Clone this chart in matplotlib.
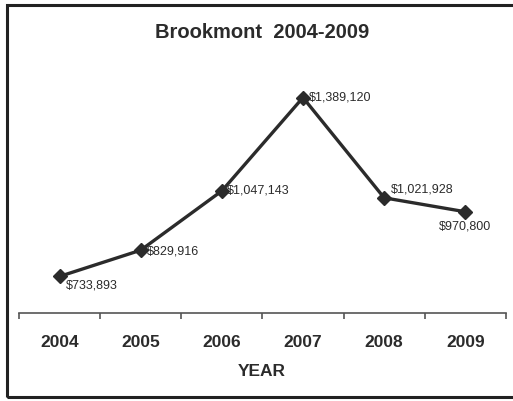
import matplotlib.pyplot as plt
from matplotlib.patches import Rectangle
from matplotlib.ticker import FixedLocator

plt.rcParams['font.family'] = ['Liberation Sans', 'DejaVu Sans']

years = ['2004', '2005', '2006', '2007', '2008', '2009']
prices = [733893, 829916, 1047143, 1389120, 1021928, 970800]
# offset (points) and alignment of each value label
label_offsets = [(4.5, -5.5), (4.5, 0), (4, 1), (4.5, 1), (5, 7), (0, -10)]
label_ha = ['left', 'left', 'left', 'left', 'left', 'center']

ink = '#2b2b2b'

fig = plt.figure(figsize=(5.13, 4.02), dpi=100)
ax = fig.add_axes([0.037, 0.219, 0.949, 0.679])

x = list(range(len(years)))
ax.plot(x, prices, color=ink, lw=2.4, marker='D', markersize=7,
        markerfacecolor=ink, markeredgecolor=ink)

for xi, val, off, ha in zip(x, prices, label_offsets, label_ha):
    ax.annotate(f'${val:,}', (xi, val), xytext=off, textcoords='offset points',
                ha=ha, va='center', fontsize=9, color=ink)

ax.set_xlim(-0.5, len(years) - 0.5)
ax.set_ylim(600000, 1600000)

# category axis: ticks sit between the years
ax.set_xticks(x)
ax.set_xticklabels(years, fontsize=12.5, fontweight='bold', color=ink)
ax.tick_params(axis='x', which='major', length=0, pad=15)
ax.xaxis.set_minor_locator(FixedLocator([i - 0.5 for i in range(len(years) + 1)]))
ax.tick_params(axis='x', which='minor', length=4.5, width=1.2, color='#555555',
               direction='out')
ax.set_yticks([])

for side in ['left', 'right', 'top']:
    ax.spines[side].set_visible(False)
ax.spines['bottom'].set_color('#555555')
ax.spines['bottom'].set_linewidth(1.2)

fig.text(0.511, 1 - 33 / 402, 'Brookmont  2004-2009', ha='center', va='center',
         fontsize=14.5, fontweight='bold', color=ink)
fig.text(0.511, 1 - 372 / 402, 'YEAR', ha='center', va='center',
         fontsize=12.5, fontweight='bold', color=ink)

# chart border, open on the right where the sheet is cut off
fig.patches.append(Rectangle((7 / 513, 4 / 402), 1.2, 392 / 402,
                             transform=fig.transFigure, fill=False,
                             edgecolor='#222222', lw=2.2))

fig.savefig('out.png', dpi=100)
